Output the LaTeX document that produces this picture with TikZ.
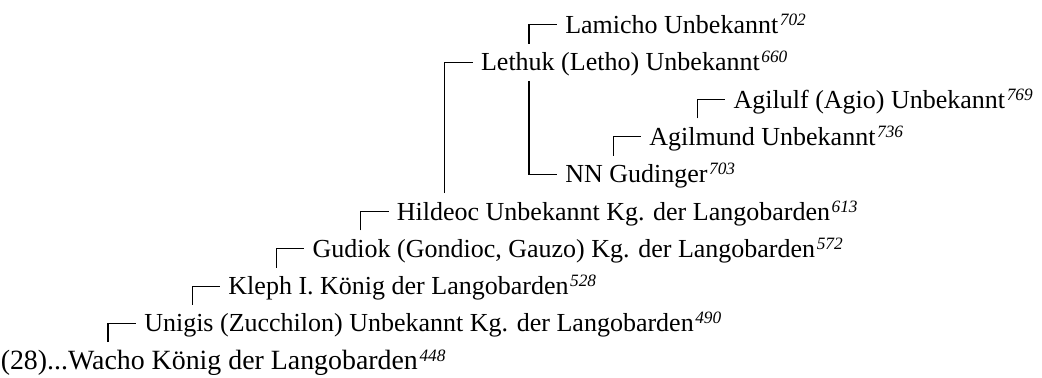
\documentclass[tikz,border=0pt]{standalone}
\usepackage{fontspec}
\setmainfont{Liberation Serif}
\newcommand\yr[1]{\kern1.2pt\raisebox{6pt}{\fontsize{13}{15}\selectfont\itshape #1}}
\begin{document}
\begin{tikzpicture}[x=0.75pt,y=-0.75pt,
  person/.style={anchor=base west, inner sep=0pt, font=\fontsize{19.5}{22}\selectfont},
  root/.style={person, font=\fontsize{20.9}{24}\selectfont},
  link/.style={line width=0.8pt, black}]
\useasboundingbox (0,0) rectangle (1042,378);
% persons
\node[person] (lamicho)  at (565,33.5)   {Lamicho Unbekannt\yr{702}};
\node[person] (lethuk)   at (480.8,70.8) {Lethuk (Letho) Unbekannt\yr{660}};
\node[person] (agilulf)  at (733.4,108.1){Agilulf (Agio) Unbekannt\yr{769}};
\node[person] (agilmund) at (649.2,145.4){Agilmund Unbekannt\yr{736}};
\node[person] (nn)       at (565,182.7)  {NN Gudinger\yr{703}};
\node[person] (hildeoc)  at (396.6,220)  {Hildeoc Unbekannt Kg. der Langobarden\yr{613}};
\node[person] (gudiok)   at (312.4,257.3){Gudiok (Gondioc, Gauzo) Kg. der Langobarden\yr{572}};
\node[person] (kleph)    at (228.2,294.6){Kleph I. König der Langobarden\yr{528}};
\node[person] (unigis)   at (144,331.9)  {Unigis (Zucchilon) Unbekannt Kg. der Langobarden\yr{490}};
\node[root]   (wacho)    at (0.5,369.2)  {(28)...Wacho König der Langobarden\yr{448}};
% stub coordinates (bracket roots)
\coordinate (sUnigis)   at (108,342.2);
\coordinate (sKleph)    at (192.2,304.9);
\coordinate (sGudiok)   at (276.4,267.6);
\coordinate (sHildeoc)  at (360.6,230.3);
\coordinate (sLethuk)   at (444.8,193);
\coordinate (sLamicho)  at (529,43.8);
\coordinate (sNN)       at (529,80.8);
\coordinate (sAgilmund) at (613.2,155.7);
\coordinate (sAgilulf)  at (697.4,118.4);
% connectors
\draw[link] (sUnigis)   |- ([shift={(-6pt,6.4pt)}]unigis.base west);
\draw[link] (sKleph)    |- ([shift={(-6pt,6.4pt)}]kleph.base west);
\draw[link] (sGudiok)   |- ([shift={(-6pt,6.4pt)}]gudiok.base west);
\draw[link] (sHildeoc)  |- ([shift={(-6pt,6.4pt)}]hildeoc.base west);
\draw[link] (sLethuk)   |- ([shift={(-6pt,6.4pt)}]lethuk.base west);
\draw[link] (sLamicho)  |- ([shift={(-6pt,6.4pt)}]lamicho.base west);
\draw[link] (sNN)       |- ([shift={(-6pt,6.4pt)}]nn.base west);
\draw[link] (sAgilmund) |- ([shift={(-6pt,6.4pt)}]agilmund.base west);
\draw[link] (sAgilulf)  |- ([shift={(-6pt,6.4pt)}]agilulf.base west);
\end{tikzpicture}
\end{document}
